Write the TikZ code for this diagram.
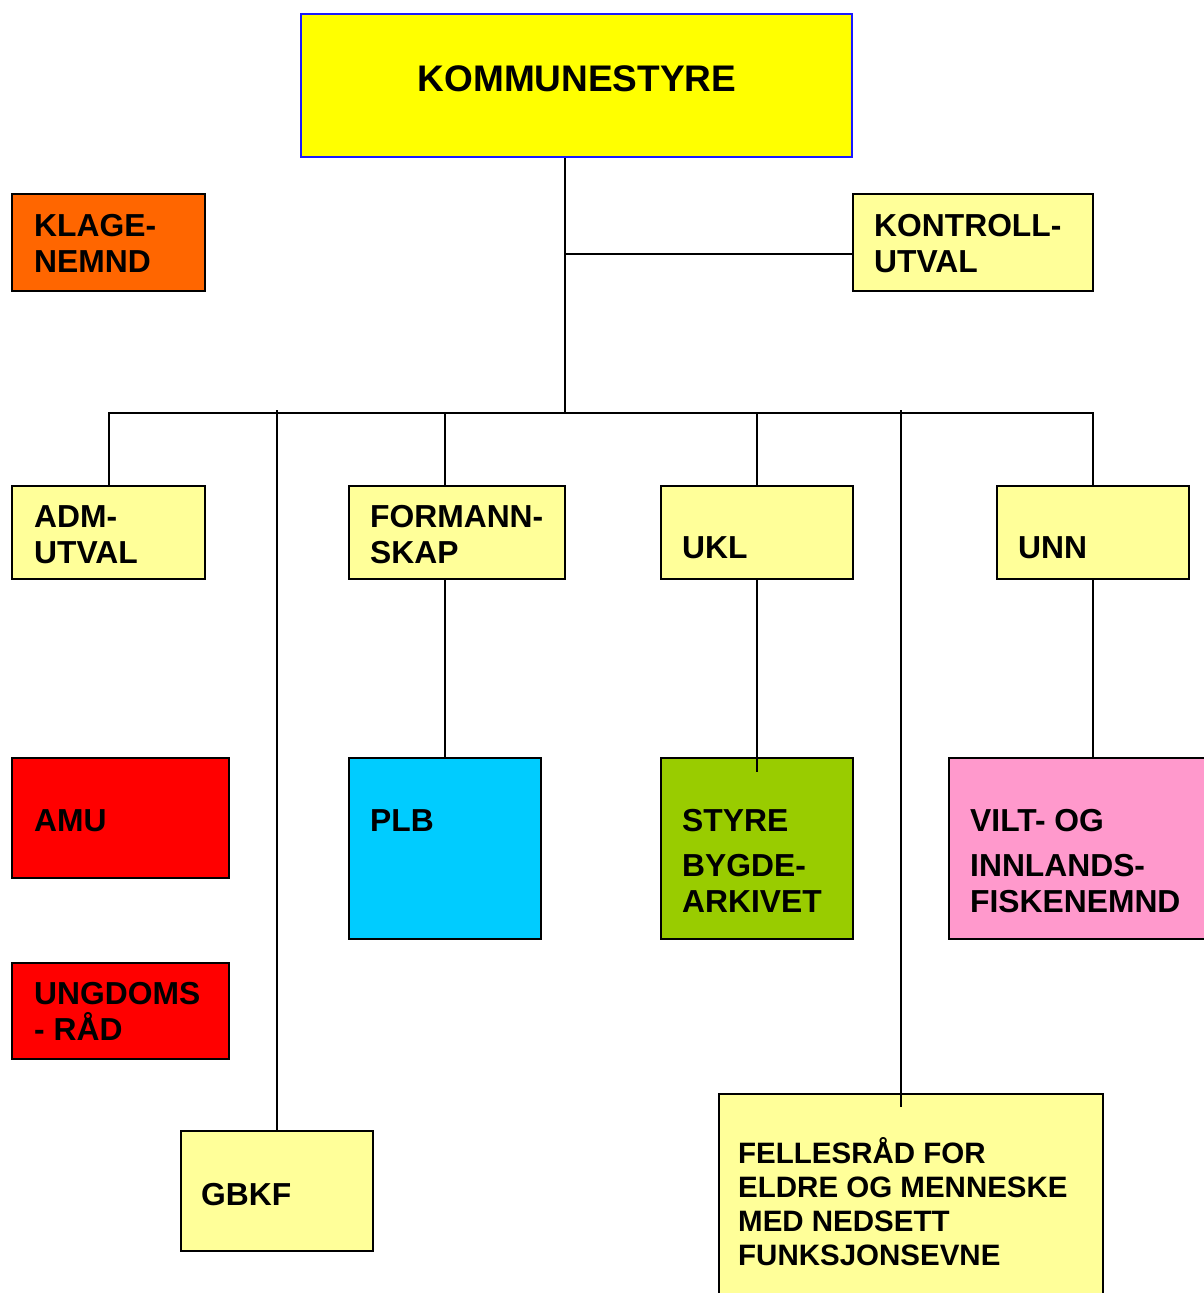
\documentclass[tikz,border=0pt]{standalone}
\usepackage{fontspec}
\setmainfont{Liberation Sans}
\definecolor{lysgul}{HTML}{FFFF99}
\definecolor{sterkgul}{HTML}{FFFF00}
\definecolor{raudoransje}{HTML}{FF6600}
\definecolor{raud}{HTML}{FF0000}
\definecolor{turkis}{HTML}{00CCFF}
\definecolor{lysegronn}{HTML}{99CC00}
\definecolor{rosa}{HTML}{FF99CC}
\definecolor{kantblaa}{HTML}{1A1AFF}
\begin{document}
\begin{tikzpicture}[x = 1pt, y = -1pt,
        boks/.style = {draw, line width = 2.4pt, inner sep = 0pt},
        tekst/.style = {anchor = base west, align = left, inner sep = 0pt,
            font = \bfseries\fontsize{31.8}{36}\selectfont}]
    \useasboundingbox (0,0) rectangle (1203,1293);
    % boksane
    \node[boks, draw = kantblaa, fill = sterkgul, minimum width = 551pt, minimum height = 143pt] (ks) at (576.5,85.5) {};
    \node[boks, fill = raudoransje, minimum width = 193pt, minimum height = 97pt] (klage) at (108.5,242.5) {};
    \node[boks, fill = lysgul, minimum width = 240pt, minimum height = 97pt] (kontroll) at (973,242.5) {};
    \node[boks, fill = lysgul, minimum width = 193pt, minimum height = 93pt] (adm) at (108.5,532.5) {};
    \node[boks, fill = lysgul, minimum width = 216pt, minimum height = 93pt] (form) at (457,532.5) {};
    \node[boks, fill = lysgul, minimum width = 192pt, minimum height = 93pt] (ukl) at (757,532.5) {};
    \node[boks, fill = lysgul, minimum width = 192pt, minimum height = 93pt] (unn) at (1093,532.5) {};
    \node[boks, fill = raud, minimum width = 217pt, minimum height = 120pt] (amu) at (120.5,818) {};
    \node[boks, fill = turkis, minimum width = 192pt, minimum height = 181pt] (plb) at (445,848.5) {};
    \node[boks, fill = lysegronn, minimum width = 192pt, minimum height = 181pt] (styre) at (757,848.5) {};
    \node[boks, fill = rosa, minimum width = 264pt, minimum height = 181pt] (vilt) at (1081,848.5) {};
    \node[boks, fill = raud, minimum width = 217pt, minimum height = 96pt] (ungdom) at (120.5,1011) {};
    \node[boks, fill = lysgul, minimum width = 192pt, minimum height = 120pt] (gbkf) at (277,1191) {};
    \node[boks, fill = lysgul, minimum width = 384pt, minimum height = 210pt] (felles) at (911,1199) {};
    % tekstane (base = siste linja)
    \node[tekst, anchor = base, font = \bfseries\fontsize{37}{44}\selectfont] (ks-t) at (577,91) {KOMMUNESTYRE};
    \node[tekst] (klage-t) at (34,272) {KLAGE-\\NEMND};
    \node[tekst] (kontroll-t) at (874,272) {KONTROLL-\\UTVAL};
    \node[tekst] (adm-t) at (34,563) {ADM-\\UTVAL};
    \node[tekst] (form-t) at (370,563) {FORMANN-\\SKAP};
    \node[tekst] (ukl-t) at (682,558) {UKL};
    \node[tekst] (unn-t) at (1018,558) {UNN};
    \node[tekst] (amu-t) at (34,831) {AMU};
    \node[tekst] (plb-t) at (370,831) {PLB};
    \node[tekst] (styre-t) at (682,912) {STYRE\\[9pt]BYGDE-\\ARKIVET};
    \node[tekst] (vilt-t) at (970,912) {VILT- OG\\[9pt]INNLANDS-\\FISKENEMND};
    \node[tekst] (ungdom-t) at (34,1040) {UNGDOMS\\- RÅD};
    \node[tekst] (gbkf-t) at (201,1205) {GBKF};
    \node[tekst, font = \bfseries\fontsize{29.5}{34}\selectfont] (felles-t) at (738,1265)
        {FELLESRÅD FOR\\ELDRE OG MENNESKE\\MED NEDSETT\\FUNKSJONSEVNE};
    % linjene
    \begin{scope}[line width = 2pt]
        \coordinate (midt) at (565,413);
        \coordinate (kryss) at (565,254);
        \coordinate (g-topp) at (277,410);
        \coordinate (f-topp) at (901,410);
        \coordinate (f-inn) at (901,1107);
        \coordinate (styre-inn) at (757,772);
        \draw (ks.south -| midt) -- (midt);
        \draw (kryss) -- (kryss -| kontroll.west);
        \draw (adm.north) |- (midt) -| (unn.north);
        \draw (plb.north |- midt) -- (plb.north |- form.north);
        \draw (plb.north |- form.south) -- (plb.north);
        \draw (ukl.north) -- (ukl.north |- midt);
        \draw (ukl.south) -- (styre-inn);
        \draw (unn.south) -- (unn.south |- vilt.north);
        \draw (g-topp) -- (gbkf.north);
        \draw (f-topp) -- (f-inn);
    \end{scope}
\end{tikzpicture}
\end{document}
